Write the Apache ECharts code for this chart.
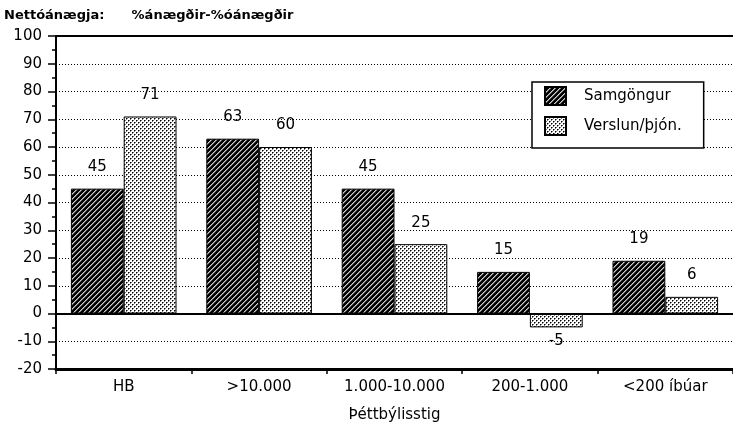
<!DOCTYPE html>
<html>
<head>
<meta charset="utf-8">
<script src="https://cdn.jsdelivr.net/npm/echarts@6/dist/echarts.min.js"></script>
<style>
html,body{margin:0;padding:0;background:#fff;}
#chart{width:733px;height:430px;}
</style>
</head>
<body>
<div id="chart"></div>
<script>
const titleText = 'Nettóánægja:      %ánægðir-%óánægðir';
const categories = ['HB', '>10.000', '1.000-10.000', '200-1.000', '<200 íbúar'];
const seriesNames = ['Samgöngur', 'Verslun/þjón.'];
const samgongur = [45, 63, 45, 15, 19];
const verslun = [71, 60, 25, -5, 6];
const xAxisName = 'Þéttbýlisstig';

function makePattern(w, h, bg, pixels) {
  const c = document.createElement('canvas');
  c.width = w; c.height = h;
  const ctx = c.getContext('2d');
  ctx.fillStyle = bg; ctx.fillRect(0, 0, w, h);
  pixels.forEach(p => { ctx.fillStyle = p[2]; ctx.fillRect(p[0], p[1], 1, 1); });
  return c;
}
function diagPixels(P) {
  const px = [];
  for (let x = 0; x < P; x++) for (let y = 0; y < P; y++) {
    const k = (x + y) % P;
    if (k === 0) px.push([x, y, '#d0d0d0']);
    else if (k === 1) px.push([x, y, '#707070']);
  }
  return px;
}
const hatch = makePattern(5, 5, '#000', diagPixels(5));
const dots = makePattern(4, 4, '#fff', [
  [0,0,'#000'],[1,0,'#777'],[0,1,'#777'],
  [2,2,'#000'],[3,2,'#777'],[2,3,'#777']
]);

const font = 'DejaVu Sans';
function toData(arr) {
  return arr.map(v => v < 0 ? { value: v, label: { position: 'bottom', distance: 6 } } : v);
}
const labelCfg = { show: true, position: 'top', distance: 14, color: '#000', fontFamily: font, fontSize: 15 };
const barStyle = (img) => ({ color: { image: img, repeat: 'repeat' }, borderColor: '#000', borderWidth: 1 });

const chart = echarts.init(document.getElementById('chart'));
chart.setOption({
  animation: false,
  backgroundColor: '#fff',
  title: {
    text: titleText, left: 0, top: 9, padding: [0, 0, 0, 4],
    textStyle: { fontFamily: font, fontSize: 13, fontWeight: 'bold', color: '#000' }
  },
  legend: {
    orient: 'vertical', left: 532, top: 82, icon: 'rect',
    padding: [4, 22, 12, 12], itemGap: 10, itemWidth: 21, itemHeight: 18,
    backgroundColor: '#fff', borderColor: '#000', borderWidth: 1.5,
    textStyle: { fontFamily: font, fontSize: 15, color: '#000', padding: [0, 0, 0, 13] },
    data: seriesNames
  },
  grid: { left: 56, right: -4, top: 36, bottom: 61 },
  xAxis: {
    type: 'category', data: categories,
    name: xAxisName, nameLocation: 'middle', nameGap: 39,
    nameTextStyle: { fontFamily: font, fontSize: 15, color: '#000' },
    axisLine: { onZero: false, lineStyle: { color: '#000', width: 3 } },
    axisTick: { show: true, length: 5, lineStyle: { color: '#000', width: 1.5 } },
    axisLabel: { margin: 11, fontFamily: font, fontSize: 15, color: '#000' }
  },
  yAxis: {
    type: 'value', min: -20, max: 100, interval: 10,
    axisLine: { show: true, lineStyle: { color: '#000', width: 2 } },
    axisTick: { show: true, length: 8, lineStyle: { color: '#000', width: 1.5 } },
    minorTick: { show: true, splitNumber: 2, length: 4, lineStyle: { color: '#000', width: 1.5 } },
    axisLabel: { margin: 14, fontFamily: font, fontSize: 15, color: '#000' },
    splitLine: { show: true, lineStyle: { color: '#000', width: 1, type: [1, 2] } }
  },
  series: [
    {
      name: seriesNames[0], type: 'bar', data: toData(samgongur),
      barGap: '0%', barCategoryGap: '22%',
      itemStyle: barStyle(hatch), label: labelCfg,
      markLine: {
        silent: true, symbol: 'none', label: { show: false },
        lineStyle: { color: '#000', width: 2, type: 'solid' },
        data: [{ yAxis: 0 }, { yAxis: 100 }]
      }
    },
    {
      name: seriesNames[1], type: 'bar', data: toData(verslun),
      barGap: '0%', barCategoryGap: '22%',
      itemStyle: barStyle(dots), label: labelCfg
    }
  ]
});
</script>
</body>
</html>
